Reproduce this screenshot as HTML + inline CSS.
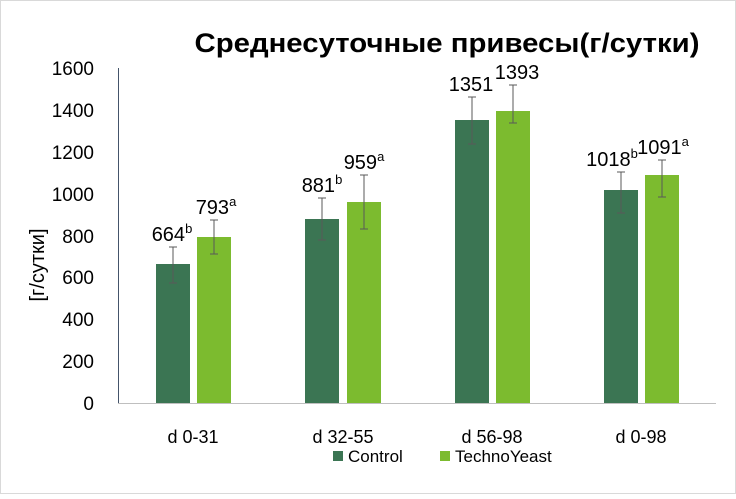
<!DOCTYPE html>
<html><head><meta charset="utf-8"><style>
body{margin:0;background:#fff;}
svg text{font-family:"Liberation Sans",sans-serif;fill:#000;}
</style></head><body>
<svg width="736" height="494" xmlns="http://www.w3.org/2000/svg">
<rect x="0.5" y="0.5" width="735" height="493" fill="#fff" stroke="#d9d9d9"/>
<text x="447" y="52" font-size="27" font-weight="bold" text-anchor="middle" textLength="505" lengthAdjust="spacingAndGlyphs">Среднесуточные привесы(г/сутки)</text>
<g font-size="19" text-anchor="end">
<text x="94" y="410">0</text><text x="94" y="368">200</text><text x="94" y="326">400</text>
<text x="94" y="284">600</text><text x="94" y="243">800</text><text x="94" y="201">1000</text>
<text x="94" y="159">1200</text><text x="94" y="117">1400</text><text x="94" y="75">1600</text>
</g>
<text transform="translate(44,265) rotate(-90)" font-size="20" text-anchor="middle">[г/сутки]</text>
<line x1="118.5" y1="68" x2="118.5" y2="403" stroke="#44546a"/>
<line x1="118" y1="403.5" x2="716" y2="403.5" stroke="#bfbfbf"/>
<g fill="#3b7553">
<rect x="156" y="264" width="34" height="139"/>
<rect x="305" y="219" width="34" height="184"/>
<rect x="455" y="120" width="34" height="283"/>
<rect x="604" y="190" width="34" height="213"/>
</g>
<g fill="#7cbb2f">
<rect x="197" y="237" width="34" height="166"/>
<rect x="347" y="202" width="34" height="201"/>
<rect x="496" y="111" width="34" height="292"/>
<rect x="645" y="175" width="34" height="228"/>
</g>
<g stroke="#595959" stroke-width="1">
<path d="M173 247V283M169 247h8M169 283h8"/>
<path d="M214 220V254M210 220h8M210 254h8"/>
<path d="M322 198V240M318 198h8M318 240h8"/>
<path d="M364 175V229M360 175h8M360 229h8"/>
<path d="M472 97V144M468 97h8M468 144h8"/>
<path d="M513 85V123M509 85h8M509 123h8"/>
<path d="M621 172V213M617 172h8M617 213h8"/>
<path d="M662 160V197M658 160h8M658 197h8"/>
</g>
<g font-size="20" text-anchor="middle">
<text x="172" y="241">664<tspan font-size="13" dy="-8">b</tspan></text>
<text x="216" y="214">793<tspan font-size="13" dy="-8">a</tspan></text>
<text x="322" y="192">881<tspan font-size="13" dy="-8">b</tspan></text>
<text x="364" y="169">959<tspan font-size="13" dy="-8">a</tspan></text>
<text x="471" y="91">1351</text>
<text x="517" y="79">1393</text>
<text x="612" y="166">1018<tspan font-size="13" dy="-8">b</tspan></text>
<text x="663" y="154">1091<tspan font-size="13" dy="-8">a</tspan></text>
</g>
<g font-size="18" text-anchor="middle">
<text x="193" y="443">d 0-31</text><text x="343" y="443">d 32-55</text>
<text x="492" y="443">d 56-98</text><text x="641" y="443">d 0-98</text>
</g>
<rect x="333" y="451" width="10" height="10" fill="#3b7553"/>
<text x="348" y="462" font-size="17">Control</text>
<rect x="440" y="451" width="10" height="10" fill="#7cbb2f"/>
<text x="455" y="462" font-size="17">TechnoYeast</text>
</svg>
</body></html>
